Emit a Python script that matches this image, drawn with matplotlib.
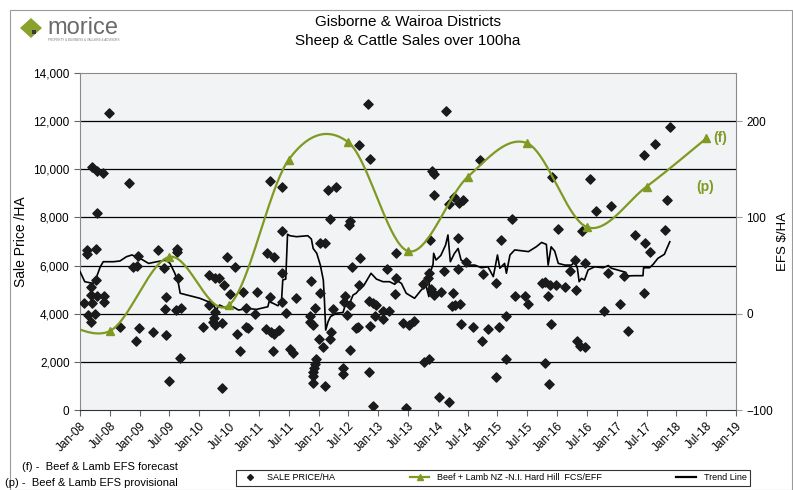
import numpy as np
import matplotlib
matplotlib.use("Agg")
import matplotlib.pyplot as plt
from matplotlib.patches import Rectangle, Polygon
from matplotlib.lines import Line2D

plt.rcParams['font.family'] = ['Liberation Sans', 'DejaVu Sans']

# ---- data (decimal years) ----
sale_year = [
    2008.49, 2008.20, 2008.29, 2008.39, 2008.82, 2008.29, 2008.11, 2008.12, 2008.26, 2009.30,
    2009.62, 2009.62, 2008.97, 2010.46, 2011.13, 2011.26, 2011.19, 2011.38, 2011.38,
    2008.89, 2008.96, 2009.41, 2010.60, 2008.26, 2008.19, 2009.64, 2010.16, 2010.27, 2010.33,
    2010.41, 2010.52, 2008.18, 2008.29, 2008.41, 2008.41, 2008.07, 2008.20, 2009.45, 2009.43,
    2009.61, 2009.70, 2008.13, 2008.25, 2008.18, 2010.16, 2010.26, 2010.25, 2010.23, 2010.26,
    2010.38, 2010.06, 2008.67, 2008.99, 2009.23, 2009.45, 2008.94, 2010.63, 2010.68, 2009.68,
    2009.49, 2010.38,
    2012.20, 2012.53, 2012.51, 2012.02, 2012.10, 2013.30, 2012.69, 2012.56, 2013.14, 2011.39,
    2011.88, 2013.30, 2012.67, 2010.73, 2010.97, 2012.02, 2013.28, 2011.18, 2012.45, 2011.63,
    2012.84, 2012.92, 2012.97, 2011.38, 2012.43, 2012.52, 2010.78, 2011.94, 2012.25, 2013.08,
    2013.18, 2010.93, 2011.46, 2012.48, 2011.85, 2012.95, 2013.08, 2011.85, 2011.90, 2013.42,
    2013.51, 2010.79, 2010.82, 2012.63, 2012.66, 2012.87, 2011.12, 2011.20, 2011.25, 2011.33,
    2012.21, 2012.01, 2012.20, 2012.08, 2012.53, 2011.24, 2011.52, 2011.57, 2011.96, 2011.94,
    2011.92, 2011.90, 2011.90, 2011.91, 2012.10, 2012.41, 2012.41, 2012.84, 2012.91, 2013.47,
    2012.83, 2014.13, 2012.67, 2012.87, 2013.91, 2013.93, 2014.71, 2012.16, 2012.30, 2013.93,
    2014.27, 2014.18, 2014.36, 2014.42, 2015.25, 2013.87, 2014.34, 2015.06,
    2016.01, 2014.47, 2014.11, 2014.34, 2014.75, 2014.98, 2016.22, 2016.31, 2013.75, 2013.86,
    2013.84, 2013.89, 2013.92, 2014.06, 2013.93, 2014.25, 2014.23, 2014.28, 2014.37, 2015.74,
    2015.79, 2015.88, 2015.99, 2016.14, 2015.29, 2015.47, 2015.52, 2015.85, 2013.60, 2014.39,
    2014.59, 2014.84, 2014.74, 2015.02, 2015.15, 2015.90, 2013.77, 2013.85, 2015.15, 2015.79,
    2014.98, 2015.86, 2014.02, 2014.19,
    2017.90, 2017.64, 2017.45, 2015.91, 2016.56, 2017.84, 2016.65, 2016.90, 2016.42, 2017.31,
    2017.81, 2017.48, 2017.56,
    2016.30, 2016.46, 2016.86, 2017.12, 2017.45, 2017.05, 2016.79, 2017.19, 2016.34, 2016.38,
    2016.46,
]
sale_price = [
    12340, 10080, 9940, 9830, 9420, 8170, 6650, 6470, 6675, 6650,
    6675, 6550, 6400, 6370, 6530, 6340, 9510, 9280, 7450,
    5950, 5990, 5890, 5940, 5400, 5120, 5470, 5610, 5470, 5470,
    5180, 4810, 4780, 4750, 4750, 4500, 4430, 4430, 4680, 4200,
    4150, 4220, 3950, 3990, 3670, 4360, 4080, 3810, 3640, 3530,
    3600, 3450, 3450, 3410, 3240, 3130, 2870, 3170, 2460, 2150,
    1190, 930,
    7930, 7850, 7680, 6940, 6940, 6530, 6300, 5940, 5840, 5680,
    5360, 5470, 5190, 4910, 4910, 4850, 4810, 4710, 4740, 4660,
    4540, 4430, 4360, 4500, 4470, 4360, 4250, 4250, 4180, 4110,
    4110, 4000, 4040, 3950, 3900, 3900, 3770, 3670, 3530, 3600,
    3530, 3460, 3420, 3400, 3460, 3490, 3360, 3230, 3140, 3310,
    3250, 2940, 2940, 2600, 2500, 2450, 2520, 2380, 2100, 1910,
    1730, 1570, 1420, 1110, 1010, 1760, 1480, 1570, 170, 70,
    12700, 12430, 11010, 10410, 9930, 9790, 10390, 9140, 9280, 8930,
    8860, 8550, 8610, 8720, 7920, 7050, 7130, 7050,
    7520, 6160, 5770, 5840, 5640, 5260, 5770, 4980, 5230, 5680,
    5470, 5030, 4850, 4910, 4780, 4880, 4330, 4360, 4390, 5260,
    5330, 5190, 5190, 5120, 4750, 4740, 4390, 4740, 3700, 3570,
    3460, 3350, 2870, 3460, 3900, 3570, 2010, 2110, 2120, 1940,
    1380, 1070, 530, 350,
    11770, 11040, 10590, 9690, 9580, 8720, 8280, 8470, 7450, 7270,
    7480, 6920, 6580,
    6230, 6090, 5680, 5580, 4850, 4400, 4110, 3280, 2870, 2660,
    2630,
]

efs_year = [2007.5, 2008.5, 2009.5, 2010.5, 2011.5, 2012.5, 2013.5, 2014.5, 2015.5, 2016.5, 2017.5, 2018.5]
efs_value = [-2, -18, 59, 9, 160, 178, 65, 142, 177, 90, 132, 182]

trend_year = [
    2008.00, 2008.08, 2008.22, 2008.28, 2008.34, 2008.39, 2008.56, 2008.67, 2008.78, 2008.87,
    2008.98, 2009.15, 2009.29, 2009.44, 2009.51, 2009.59, 2009.65, 2009.68, 2009.79, 2010.01,
    2010.15, 2010.24, 2010.28, 2010.34, 2010.46, 2010.57, 2010.66, 2010.80, 2010.96, 2011.15,
    2011.17, 2011.24, 2011.32, 2011.38, 2011.40, 2011.45, 2011.48, 2011.52, 2011.63, 2011.82,
    2011.88, 2011.91, 2011.97, 2012.03, 2012.08, 2012.10, 2012.12, 2012.16, 2012.20, 2012.30,
    2012.41, 2012.47, 2012.52, 2012.58, 2012.63, 2012.69, 2012.77, 2012.88, 2012.97, 2013.08,
    2013.19, 2013.28, 2013.30, 2013.39, 2013.47, 2013.61, 2013.72, 2013.80, 2013.85, 2013.86,
    2013.92, 2013.93, 2013.97, 2014.05, 2014.13, 2014.17, 2014.21, 2014.28, 2014.34, 2014.39,
    2014.51, 2014.62, 2014.73, 2014.84, 2014.93, 2014.97, 2015.00, 2015.04, 2015.12, 2015.15,
    2015.21, 2015.29, 2015.52, 2015.65, 2015.74, 2015.82, 2015.85, 2015.90, 2015.96, 2016.02,
    2016.13, 2016.24, 2016.30, 2016.34, 2016.37, 2016.41, 2016.46, 2016.52, 2016.63, 2016.77,
    2016.86, 2016.91, 2017.08, 2017.15, 2017.18, 2017.30, 2017.44, 2017.45, 2017.55, 2017.61,
    2017.69, 2017.80, 2017.83, 2017.89,
]
trend_price = [
    5750, 5330, 5260, 5540, 5950, 6160, 6160, 6190, 6370, 6440,
    6340, 6090, 6160, 6230, 6090, 5680, 5260, 4850, 4780, 4640,
    4500, 4360, 4150, 4360, 4220, 4280, 4150, 4220, 4180, 4290,
    4500, 4430, 4330, 4570, 5400, 5440, 7300, 7240, 7200, 7240,
    7100, 6710, 6510, 6020, 5400, 4500, 3320, 3670, 3880, 4020,
    4050, 4530, 4430, 4780, 4850, 5030, 5220, 5680, 5440, 5330,
    5330, 5220, 5400, 5260, 4850, 4640, 4980, 5190, 4710, 5610,
    6050, 6510, 6230, 6420, 6850, 7270, 6160, 6510, 6710, 6230,
    6020, 6020, 5910, 5950, 5540, 6050, 6440, 5890, 6090, 5680,
    6440, 6650, 6580, 6780, 6960, 6880, 6020, 6780, 6600, 6090,
    6020, 6020, 6160, 5890, 5330, 5470, 5400, 5820, 5950, 5910,
    6000, 5890, 5770, 5720, 5570, 5580, 5580, 5910, 5910, 6050,
    6300, 6470, 6650, 6990,
]

tick_labels = []
for yr in range(8, 20):
    tick_labels.append('Jan-%02d' % yr)
    if yr < 19:
        tick_labels.append('Jul-%02d' % yr)

GREEN = '#7f9a22'


def smooth(xs, ys, n=40):
    # Catmull-Rom, like Excel's smoothed line
    p = np.column_stack([xs, ys]).astype(float)
    p = np.vstack([p[0], p, p[-1]])
    t = np.linspace(0, 1, n)[:, None]
    out = []
    for i in range(1, len(p) - 2):
        p0, p1, p2, p3 = p[i - 1], p[i], p[i + 1], p[i + 2]
        seg = 0.5 * ((2 * p1) + (-p0 + p2) * t + (2 * p0 - 5 * p1 + 4 * p2 - p3) * t ** 2
                     + (-p0 + 3 * p1 - 3 * p2 + p3) * t ** 3)
        out.append(seg)
    out = np.vstack(out)
    return out[:, 0], out[:, 1]


fig = plt.figure(figsize=(7.93, 4.90), dpi=100)
W, H = 793, 490
ax = fig.add_axes([80 / W, (H - 410) / H, 656 / W, 337 / H])
ax.set_facecolor('#f2f3f5')

ax.set_xlim(2008, 2019)
ax.set_ylim(0, 14000)
ax.set_yticks(np.arange(0, 14001, 2000))
ax.set_yticklabels(['{:,}'.format(v) for v in range(0, 14001, 2000)], fontsize=8.5)
ax.set_xticks(2008 + 0.5 * np.arange(len(tick_labels)))
ax.set_xticklabels(tick_labels, rotation=45, ha='right', rotation_mode='anchor', fontsize=8.5)
for y in range(2000, 14000, 2000):
    ax.axhline(y, color='black', lw=0.9, zorder=1)
for s in ['left', 'right', 'top']:
    ax.spines[s].set_color('#8a8a8a')
ax.spines['bottom'].set_color('#333333')
ax.tick_params(axis='both', direction='out', length=4, color='#666666')
ax.set_ylabel('Sale Price /HA', fontsize=10)
ax.yaxis.set_label_coords(-0.08, 0.5)

sx, sy = smooth(efs_year, efs_value)
ax2 = ax.twinx()
ax2.set_ylim(-100, 250)
ax2.set_yticks([-100, 0, 100, 200])
ax2.tick_params(axis='y', direction='out', length=4, color='#999999', labelsize=8.5)
for s in ax2.spines.values():
    s.set_visible(False)
ax2.set_ylabel('EFS $/HA', fontsize=9.5)
ax2.yaxis.set_label_coords(1.062, 0.5)

ax.plot(trend_year, trend_price, color='black', lw=1.2, zorder=3)
ax.scatter(sale_year, sale_price, marker='D', s=22, color='#1a1a1a', zorder=4)
ax2.plot(sx, sy, color=GREEN, lw=1.6, zorder=5)
ax2.plot(efs_year, efs_value, ls='none', marker='^', ms=6, color=GREEN, zorder=6)

ax2.text(2018.62, 182, '(f)', color=GREEN, fontsize=10, fontweight='bold', va='center')
ax2.text(2018.33, 132, '(p)', color=GREEN, fontsize=10, fontweight='bold', va='center')

# title
fig.text(408 / W, 1 - 22 / H, 'Gisborne & Wairoa Districts', ha='center', va='center', fontsize=11)
fig.text(408 / W, 1 - 41 / H, 'Sheep & Cattle Sales over 100ha', ha='center', va='center', fontsize=11)

# logo
fig.patches.append(Polygon([(20 / W, 1 - 28 / H), (31 / W, 1 - 18 / H), (42 / W, 1 - 28 / H),
                            (31 / W, 1 - 38 / H)], closed=True, transform=fig.transFigure,
                           facecolor='#8aa12e', edgecolor='none'))
fig.patches.append(Rectangle((32 / W, 1 - 34 / H), 4 / W, 4 / H, transform=fig.transFigure,
                             facecolor='#3a3a3a', edgecolor='none'))
fig.text(47 / W, 1 - 34 / H, 'morice', fontsize=17, color='#6a6a6a', va='baseline')
fig.text(48 / W, 1 - 40 / H, 'PROPERTY & BUSINESS & VALUERS & ADVISORS', fontsize=2.2,
         color='#777777', va='center')

# frame
fig.patches.append(Rectangle((10 / W, 0), 782 / W, 1 - 10 / H, transform=fig.transFigure,
                             fill=False, edgecolor='#9a9a9a', lw=0.8))

# notes
fig.text(22 / W, 1 - 467 / H, '(f) -  Beef & Lamb EFS forecast', fontsize=8, va='center')
fig.text(5 / W, 1 - 483 / H, '(p) -  Beef & Lamb EFS provisional', fontsize=8, va='center')

handles = [
    Line2D([], [], ls='none', marker='D', ms=3, color='#1a1a1a'),
    Line2D([], [], color=GREEN, lw=1.6, marker='^', ms=4),
    Line2D([], [], color='black', lw=1.6),
]
labels = ['SALE PRICE/HA', 'Beef + Lamb NZ -N.I. Hard Hill  FCS/EFF', 'Trend Line']
leg = fig.legend(handles, labels, loc='lower left', mode='expand',
                 bbox_to_anchor=(236 / W, 1 - 486 / H, 514 / W, 19 / H), ncol=3,
                 fontsize=6.5, frameon=True, fancybox=False, edgecolor='black',
                 handlelength=2.2, borderpad=0.4, borderaxespad=0)
leg.get_frame().set_linewidth(0.8)

fig.savefig('out.png', dpi=100)
